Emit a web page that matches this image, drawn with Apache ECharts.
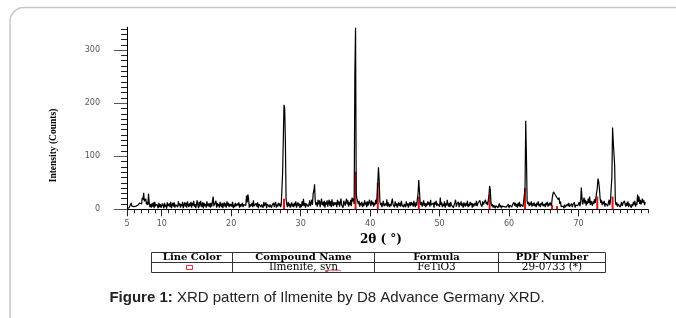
<!DOCTYPE html>
<html>
<head>
<meta charset="utf-8">
<script src="https://cdn.jsdelivr.net/npm/echarts@6/dist/echarts.min.js"></script>
<style>
  html, body { margin: 0; padding: 0; background: #fff; }
  #chart { width: 676px; height: 318px; }
</style>
</head>
<body>
<div id="chart"></div>
<script>
// XRD scan: 2θ starts at 5.0°, one reading every 0.1° (one line = one degree)
const scanStart = 5.0;
const scanStep = 0.1;
const counts = [
  1, 2, 1, 3, 4, 2, 12, 6, 9, 3,        // 5
  5, 2, 4, 6, 3, 7, 8, 5, 12, 9,        // 6
  14, 10, 22, 18, 31, 15, 12, 20, 9, 14,// 7
  8, 29, 12, 4, 10, 3, 11, 5, 13, 2,    // 8
  14, 6, 3, 10, 9, 2, 12, 4, 10, 3,     // 9
  4, 11, 7, 2, 12, 5, 9, 1, 13, 6,      // 10
  3, 11, 4, 14, 2, 8, 12, 5, 13, 3,     // 11
  9, 6, 12, 4, 15, 7, 11, 3, 10, 6,     // 12
  14, 2, 9, 13, 5, 12, 3, 15, 8, 4,     // 13
  11, 6, 14, 3, 12, 7, 16, 5, 10, 2,    // 14
  3, 17, 8, 2, 14, 5, 16, 9, 4, 13,     // 15
  2, 12, 6, 10, 3, 15, 6, 11, 5, 11,    // 16
  3, 12, 5, 8, 24, 6, 4, 9, 16, 3,      // 17
  12, 6, 10, 3, 14, 8, 4, 12, 2, 9,     // 18
  13, 5, 11, 3, 15, 7, 12, 4, 10, 6,    // 19
  10, 5, 14, 2, 9, 4, 12, 6, 3, 11,     // 20
  7, 13, 3, 10, 5, 8, 12, 4, 9, 6,      // 21
  11, 7, 26, 13, 28, 20, 3, 10, 5, 8,   // 22
  12, 4, 17, 6, 9, 3, 11, 5, 13, 2,     // 23
  10, 7, 12, 4, 9, 11, 3, 14, 6, 8,     // 24
  13, 2, 10, 7, 12, 4, 9, 11, 3, 8,     // 25
  6, 12, 4, 10, 14, 3, 9, 5, 12, 7,     // 26
  11, 4, 8, 6, 68, 70, 197, 190, 128, 20, // 27
  9, 4, 14, 6, 11, 3, 8, 13, 5, 10,     // 28
  4, 12, 7, 15, 3, 9, 13, 6, 11, 2,     // 29
  10, 4, 15, 7, 20, 6, 12, 3, 11, 8,    // 30
  14, 5, 9, 17, 6, 12, 18, 8, 30, 35,   // 31
  47, 15, 8, 13, 5, 18, 9, 17, 4, 12,   // 32
  20, 8, 14, 6, 16, 3, 13, 9, 17, 5,    // 33
  12, 18, 7, 15, 4, 19, 10, 6, 14, 8,   // 34
  7, 13, 4, 18, 9, 15, 5, 12, 20, 8,    // 35
  11, 3, 16, 12, 7, 14, 20, 9, 17, 5,   // 36
  13, 8, 18, 6, 22, 15, 20, 10, 253, 342, // 37
  30, 20, 22, 10, 16, 5, 12, 8, 14, 4,  // 38
  11, 6, 17, 9, 13, 4, 15, 7, 12, 18,   // 39
  11, 6, 17, 9, 14, 5, 12, 8, 18, 10,   // 40
  25, 50, 79, 55, 15, 8, 12, 4, 10, 16, // 41
  6, 3, 11, 7, 19, 5, 13, 8, 4, 10,     // 42
  6, 14, 20, 9, 12, 4, 15, 7, 11, 3,    // 43
  9, 13, 6, 12, 5, 16, 8, 11, 4, 10,    // 44
  12, 4, 15, 7, 11, 3, 9, 13, 6, 14,    // 45
  8, 12, 5, 16, 9, 4, 13, 7, 20, 30,    // 46
  55, 35, 12, 8, 14, 5, 10, 17, 6, 12,  // 47
  4, 11, 7, 15, 9, 13, 5, 18, 8, 10,    // 48
  5, 12, 3, 14, 9, 16, 6, 11, 8, 13,    // 49
  5, 22, 8, 13, 4, 10, 6, 15, 3, 11,    // 50
  7, 18, 9, 5, 12, 4, 14, 8, 6, 11,     // 51
  3, 9, 13, 18, 5, 10, 7, 14, 4, 12,    // 52
  8, 15, 6, 11, 3, 13, 9, 5, 12, 7,     // 53
  16, 4, 10, 6, 14, 8, 12, 3, 11, 5,    // 54
  4, 12, 7, 16, 6, 11, 14, 8, 17, 10,   // 55
  13, 5, 15, 9, 12, 6, 18, 10, 14, 8,   // 56
  16, 25, 44, 36, 12, 6, 10, 3, 8, 5,   // 57
  2, 7, 4, 9, 3, 6, 11, 4, 8, 2,        // 58
  6, 3, 9, 5, 2, 8, 4, 7, 3, 10,        // 59
  2, 8, 5, 11, 4, 9, 6, 13, 7, 12,      // 60
  5, 10, 3, 12, 6, 14, 4, 9, 7, 11,     // 61
  5, 15, 12, 40, 167, 100, 15, 10, 14, 6, // 62
  12, 8, 15, 5, 11, 7, 13, 6, 10, 4,    // 63
  12, 8, 15, 6, 10, 4, 12, 8, 14, 6,    // 64
  6, 10, 4, 12, 8, 14, 5, 11, 7, 13,    // 65
  10, 6, 20, 28, 33, 30, 32, 26, 24, 28,// 66
  28, 18, 22, 10, 15, 5, 8, 3, 6, 2,    // 67
  9, 4, 7, 3, 10, 6, 12, 5, 8, 3,       // 68
  11, 4, 9, 6, 13, 3, 8, 5, 10, 7,      // 69
  8, 14, 6, 12, 41, 20, 9, 16, 22, 11,  // 70
  18, 7, 15, 10, 20, 12, 24, 8, 16, 11, // 71
  7, 15, 10, 19, 12, 22, 25, 40, 58, 52,// 72
  40, 22, 12, 18, 8, 14, 10, 16, 5, 11, // 73
  9, 14, 6, 12, 18, 8, 16, 40, 60, 154, // 74
  127, 127, 83, 15, 8, 13, 5, 10, 7, 12,// 75
  4, 9, 14, 6, 11, 8, 16, 10, 5, 12,    // 76
  7, 15, 4, 11, 8, 13, 3, 10, 6, 14,    // 77
  9, 16, 5, 12, 8, 28, 14, 24, 10, 18,  // 78
  9, 15, 20, 12, 17, 8, 14              // 79
];

// reference lines of card 29-0733 (ilmenite)
const refAngles = [27.6, 37.9, 41.1, 47.0, 57.2, 62.3, 66.2, 66.9, 72.7, 74.9];
const refCounts = [20, 71, 50, 24, 28, 40, 8, 6, 24, 24];

const xLabels = [5, 10, 20, 30, 40, 50, 60, 70];
const yLabels = [0, 100, 200, 300];
const yMinorTicks = [0, 10, 20, 30, 40, 50, 60, 70, 80, 90, 100, 110, 120, 130, 140, 150, 160,
  170, 180, 190, 200, 210, 220, 230, 240, 250, 260, 270, 280, 290, 300, 310, 320, 330, 340];

const tableHeader = ['Line Color', 'Compound Name', 'Formula', 'PDF Number'];
const tableRow = ['', 'Ilmenite, syn', 'FeTiO3', '29-0733 (*)'];
const caption = 'XRD pattern of Ilmenite by D8 Advance Germany XRD.';

const scan = counts.map((c, i) => [+(scanStart + i * scanStep).toFixed(1), c]);
const refs = refAngles.map((a, i) => [a, refCounts[i]]);

const chart = echarts.init(document.getElementById('chart'));

const gridBox = { left: 127, right: 28, top: 27.3, bottom: 108.7 };
const tickFont = { fontFamily: 'DejaVu Sans', fontSize: 8, color: '#555' };

// table geometry
const tX = [151.5, 232.5, 374.5, 498.5, 605.5];
const tY = [252.5, 262.5, 272.5];
const colCenters = [192, 303.5, 436.5, 552];

const tableGraphics = [];
tY.forEach(y => tableGraphics.push({
  type: 'line', shape: { x1: tX[0], y1: y, x2: tX[4], y2: y },
  style: { stroke: '#333', lineWidth: 1 }
}));
tX.forEach(x => tableGraphics.push({
  type: 'line', shape: { x1: x, y1: tY[0], x2: x, y2: tY[2] },
  style: { stroke: '#333', lineWidth: 1 }
}));
tableHeader.forEach((t, i) => tableGraphics.push({
  type: 'text', x: colCenters[i], y: 257.8,
  style: { text: t, font: 'bold 10px "DejaVu Serif"', fill: '#000', align: 'center', verticalAlign: 'middle' }
}));
tableRow.forEach((t, i) => {
  if (!t) return;
  tableGraphics.push({
    type: 'text', x: colCenters[i], y: 267.6,
    style: { text: t, font: '10.5px "DejaVu Serif"', fill: '#000', align: 'center', verticalAlign: 'middle' }
  });
});
// line colour swatch
tableGraphics.push({
  type: 'rect', shape: { x: 186.5, y: 265.5, width: 6, height: 4 },
  style: { fill: 'none', stroke: '#e03030', lineWidth: 1 }
});
// spell-check squiggle under "syn"
tableGraphics.push({
  type: 'polyline',
  shape: { points: [[325, 271], [327, 270], [329, 271], [331, 270], [333, 271], [335, 270], [337, 271], [339, 270], [341, 271]] },
  style: { stroke: '#e03030', lineWidth: 0.8, fill: 'none' }
});

chart.setOption({
  animation: false,
  backgroundColor: '#fff',
  grid: [
    Object.assign({}, gridBox),
    Object.assign({}, gridBox)
  ],
  xAxis: [
    {
      type: 'value', gridIndex: 0, min: 5, max: 80, interval: 1,
      axisLine: { lineStyle: { color: '#000', width: 1 } },
      axisTick: { length: 4, lineStyle: { color: '#222' } },
      axisLabel: { show: false },
      splitLine: { show: false }
    },
    {
      type: 'value', gridIndex: 1, min: 5, max: 80,
      axisLine: { show: false },
      axisTick: { customValues: xLabels, length: 7, lineStyle: { color: '#222' } },
      axisLabel: Object.assign({ customValues: xLabels, margin: 11 }, tickFont),
      splitLine: { show: false }
    }
  ],
  yAxis: [
    {
      type: 'value', gridIndex: 0, min: 0, max: 343,
      axisLine: { show: true, lineStyle: { color: '#000', width: 1 } },
      axisTick: { show: true, customValues: yMinorTicks, length: 6, lineStyle: { color: '#222' } },
      axisLabel: { show: false },
      splitLine: { show: false }
    },
    {
      type: 'value', gridIndex: 1, min: 0, max: 343,
      axisLine: { show: false },
      axisTick: { show: true, customValues: yLabels, length: 13, lineStyle: { color: '#555' } },
      axisLabel: Object.assign({ customValues: yLabels, margin: 27 }, tickFont),
      splitLine: { show: false }
    }
  ],
  series: [
    {
      type: 'line', xAxisIndex: 0, yAxisIndex: 0,
      data: scan, symbol: 'none',
      lineStyle: { color: '#000', width: 1.2 }
    },
    {
      type: 'bar', xAxisIndex: 0, yAxisIndex: 0, z: 3,
      data: refs, barWidth: 2,
      itemStyle: { color: '#e81010' }
    }
  ],
  graphic: [
    {
      type: 'rect', shape: { x: 10, y: 7.5, width: 1200, height: 800, r: 14 },
      style: { fill: 'none', stroke: '#c8c8c8', lineWidth: 1.5 }, silent: true
    },
    {
      type: 'text', x: 54, y: 145.5, rotation: Math.PI / 2,
      style: { text: 'Intensity (Counts)', font: 'bold 9.5px "Liberation Serif"', fill: '#000', align: 'center', verticalAlign: 'middle' }
    },
    {
      type: 'text', x: 381, y: 239.5,
      style: { text: '2θ ( °)', font: 'bold 12px "DejaVu Serif"', fill: '#000', align: 'center', verticalAlign: 'middle' }
    },
    ...tableGraphics,
    {
      type: 'text', x: 327, y: 298,
      style: {
        text: '{b|Figure 1:} ' + caption,
        font: '15px "Liberation Sans"', fill: '#222', align: 'center', verticalAlign: 'middle',
        rich: { b: { font: 'bold 15px "Liberation Sans"', fill: '#222' } }
      }
    }
  ]
});
</script>
</body>
</html>
